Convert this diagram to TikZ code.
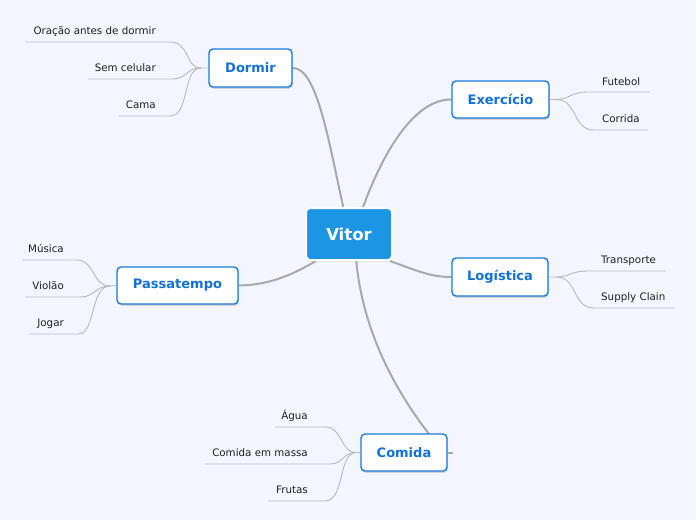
\documentclass[tikz,border=0pt]{standalone}
\usepackage{fontspec}
\setmainfont{DejaVu Sans}
\usetikzlibrary{shadows,calc}
\pgfdeclarelayer{connlayer}
\pgfsetlayers{connlayer,main}
\definecolor{bgc}{HTML}{F3F6FE}
\definecolor{mainline}{HTML}{A9A9A9}
\definecolor{leafline}{HTML}{B8B8B8}
\definecolor{topicblue}{HTML}{1A7AD9}
\definecolor{topictext}{HTML}{1271D9}
\definecolor{rootfill}{HTML}{1C95E4}
\tikzset{
  rootbox/.style={draw=white, line width=2pt, fill=rootfill, rounded corners=4pt,
    text=white, font=\fontsize{16.5}{18}\selectfont\bfseries,
    minimum width=86pt, minimum height=52pt, inner sep=0pt,
    drop shadow={shadow xshift=0.5pt, shadow yshift=-1.5pt, opacity=0.25}},
  topicbox/.style={draw=topicblue, line width=1.4pt, fill=white, rounded corners=4pt,
    text=topictext, font=\fontsize{13}{15}\selectfont\bfseries, inner sep=0pt,
    drop shadow={shadow xshift=0.8pt, shadow yshift=-1.8pt, opacity=0.3}},
  leaftext/.style={font=\fontsize{10.3}{12}\selectfont, text=black!88, inner sep=0pt},
  mainconn/.style={draw=mainline, line width=2pt},
  leafconn/.style={draw=leafline, line width=0.9pt},
}
\begin{document}
\begin{tikzpicture}[x=1pt,y=-1pt]
\begin{pgfonlayer}{connlayer}
\fill[bgc] (0,0) rectangle (696,520);
\end{pgfonlayer}
\useasboundingbox (0,0) rectangle (696,520);

\node[rootbox] (vitor) at (349,234) {Vitor};
\node[topicbox, minimum width=83pt, minimum height=38pt] (dormir) at (250.5,68) {Dormir};
\node[topicbox, minimum width=97pt, minimum height=37pt] (exerc) at (500.5,99.5) {Exercício};
\node[topicbox, minimum width=96pt, minimum height=38pt] (logis) at (500,277) {Logística};
\node[topicbox, minimum width=121pt, minimum height=37pt] (passa) at (177.5,285.5) {Passatempo};
\node[topicbox, minimum width=86pt, minimum height=37pt] (comida) at (404,452.5) {Comida};

\coordinate (vA) at (344,210);
\coordinate (vB) at (362,210);
\coordinate (vC) at (390,261);
\coordinate (vD) at (316,261);
\coordinate (vE) at (356,258);
\coordinate (cE) at (429,434);
\coordinate (stub) at (453,452.5);

\begin{pgfonlayer}{connlayer}
\draw[mainconn] (dormir.east) .. controls (318,67) and (330,150) .. (vA);
\draw[mainconn] (vB) .. controls (378,165) and (410,99) .. (exerc.west);
\draw[mainconn] (vC) .. controls (420,272) and (432,277) .. (logis.west);
\draw[mainconn] (passa.east) .. controls (272,285) and (295,273) .. (vD);
\draw[mainconn] (vE) .. controls (362,330) and (395,390) .. (cE);
\draw[mainconn] (comida.east) -- (stub);
\end{pgfonlayer}

% Dormir leaves
\node[leaftext, anchor=base east] (d1) at (156,34) {Oração antes de dormir};
\node[leaftext, anchor=base east] (d2) at (156,71) {Sem celular};
\node[leaftext, anchor=base east] (d3) at (156,108) {Cama};
\coordinate (d1a) at (25,42); \coordinate (d1b) at (170,42);
\coordinate (d2a) at (88,79); \coordinate (d2b) at (172,79);
\coordinate (d3a) at (119,116); \coordinate (d3b) at (170,116);
\coordinate (dj) at (201,68);
\draw[leafconn] (d1a) -- (d1b) .. controls (190,42) and (185,68) .. (dj) -- (dormir.west);
\draw[leafconn] (d2a) -- (d2b) .. controls (188,79) and (185,68) .. (dj);
\draw[leafconn] (d3a) -- (d3b) .. controls (190,116) and (182,68) .. (dj);

% Exercicio leaves
\node[leaftext, anchor=base west] (e1) at (602,85) {Futebol};
\node[leaftext, anchor=base west] (e2) at (602,122) {Corrida};
\coordinate (e1a) at (588,92); \coordinate (e1b) at (650,92);
\coordinate (e2a) at (594,130); \coordinate (e2b) at (648,130);
\coordinate (ej) at (556,99.5);
\draw[leafconn] (exerc.east) -- (ej) .. controls (570,99.5) and (570,92) .. (e1a) -- (e1b);
\draw[leafconn] (ej) .. controls (578,99.5) and (572,130) .. (e2a) -- (e2b);

% Logistica leaves
\node[leaftext, anchor=base west] (g1) at (601,263) {Transporte};
\node[leaftext, anchor=base west] (g2) at (601,300) {Supply Clain};
\coordinate (g1a) at (588,271); \coordinate (g1b) at (666,271);
\coordinate (g2a) at (594,308); \coordinate (g2b) at (675,308);
\coordinate (gj) at (556,277);
\draw[leafconn] (logis.east) -- (gj) .. controls (570,277) and (570,271) .. (g1a) -- (g1b);
\draw[leafconn] (gj) .. controls (578,277) and (572,308) .. (g2a) -- (g2b);

% Passatempo leaves
\node[leaftext, anchor=base east] (p1) at (64,252) {Música};
\node[leaftext, anchor=base east] (p2) at (64,289) {Violão};
\node[leaftext, anchor=base east] (p3) at (64,326) {Jogar};
\coordinate (p1a) at (22,260); \coordinate (p1b) at (77,260);
\coordinate (p2a) at (25,297); \coordinate (p2b) at (80,297);
\coordinate (p3a) at (29,334); \coordinate (p3b) at (78,334);
\coordinate (pj) at (110,286);
\draw[leafconn] (p1a) -- (p1b) .. controls (95,260) and (92,286) .. (pj) -- (passa.west);
\draw[leafconn] (p2a) -- (p2b) .. controls (96,297) and (94,286) .. (pj);
\draw[leafconn] (p3a) -- (p3b) .. controls (96,334) and (90,286) .. (pj);

% Comida leaves
\node[leaftext, anchor=base east] (c1) at (308,419) {Água};
\node[leaftext, anchor=base east] (c2) at (308,456) {Comida em massa};
\node[leaftext, anchor=base east] (c3) at (308,493) {Frutas};
\coordinate (c1a) at (275,427); \coordinate (c1b) at (325,427);
\coordinate (c2a) at (205,464); \coordinate (c2b) at (330,464);
\coordinate (c3a) at (268,501); \coordinate (c3b) at (325,501);
\coordinate (cj) at (356,452.5);
\draw[leafconn] (c1a) -- (c1b) .. controls (343,427) and (340,452.5) .. (cj) -- (comida.west);
\draw[leafconn] (c2a) -- (c2b) .. controls (344,464) and (342,452.5) .. (cj);
\draw[leafconn] (c3a) -- (c3b) .. controls (345,501) and (338,452.5) .. (cj);
\end{tikzpicture}
\end{document}
